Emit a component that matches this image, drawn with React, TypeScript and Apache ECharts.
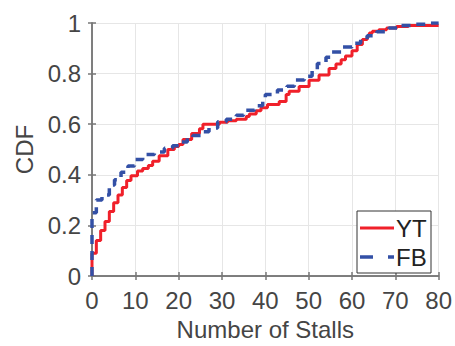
import React, { useEffect, useRef } from "react";
import * as echarts from "echarts";

const xTicks = [0, 10, 20, 30, 40, 50, 60, 70, 80];
const yTicks = [0, 0.2, 0.4, 0.6, 0.8, 1];

const ytX = [0, 0, 1, 2, 3, 4, 5, 6, 7, 8, 9, 10.5, 11.7, 13, 14, 15.5, 17.5, 19, 20, 21, 23, 24.8, 25.6, 29.4, 31.3, 33.3, 35.6, 36.3, 37.9, 39, 40.5, 43.2, 44.8, 45.5, 47.8, 50.1, 52.4, 54.7, 56.3, 57.5, 58.5, 60, 61.2, 62.4, 63.5, 64, 64.7, 66.2, 68, 70.3, 73, 80];
const ytY = [0, 0.09, 0.14, 0.18, 0.215, 0.255, 0.29, 0.32, 0.35, 0.377, 0.396, 0.415, 0.425, 0.437, 0.454, 0.475, 0.5, 0.512, 0.52, 0.54, 0.563, 0.582, 0.6, 0.608, 0.614, 0.62, 0.63, 0.64, 0.653, 0.665, 0.678, 0.69, 0.717, 0.73, 0.749, 0.774, 0.794, 0.82, 0.838, 0.855, 0.87, 0.89, 0.915, 0.935, 0.948, 0.96, 0.967, 0.973, 0.98, 0.986, 0.99, 0.99];

const fbX = [0, 0, 1, 2.3, 4, 5.2, 6.7, 8.3, 9.8, 11.7, 14.4, 16.7, 18.6, 20.2, 22, 23.3, 25.3, 27, 29, 31, 33.3, 35, 37.5, 39.4, 40, 42.8, 45, 46.7, 49, 50.8, 52, 54, 55.4, 57.7, 60, 62, 63.5, 65.7, 68.5, 70.8, 73.8, 77, 80];
const fbY = [0, 0.25, 0.3, 0.32, 0.36, 0.38, 0.41, 0.435, 0.46, 0.48, 0.49, 0.505, 0.515, 0.53, 0.545, 0.555, 0.57, 0.585, 0.61, 0.62, 0.635, 0.655, 0.673, 0.69, 0.717, 0.735, 0.75, 0.775, 0.79, 0.815, 0.84, 0.865, 0.885, 0.905, 0.92, 0.935, 0.95, 0.965, 0.98, 0.99, 0.995, 1, 1];

const seriesNames = ["YT", "FB"];
const xName = "Number of Stalls";
const yName = "CDF";

const RED = "#f0202a";
const BLUE = "#3350a6";
const AXIS = "#777777";
const TEXT = "#454545";
const FONT = "Liberation Sans, Arial, sans-serif";
const FS = 24;

export default function App() {
  const ref = useRef<HTMLDivElement>(null);
  useEffect(() => {
    const chart = echarts.init(ref.current!, null, { renderer: "svg" });
    const axisCommon = {
      type: "value" as const,
      axisLine: { show: true, lineStyle: { color: AXIS, width: 1.5 } },
      axisTick: { show: true, inside: true, length: 4, lineStyle: { color: AXIS, width: 1.5 } },
    };
    chart.setOption({
      animation: false,
      backgroundColor: "#ffffff",
      grid: { left: 92, right: 15, top: 23, bottom: 63, containLabel: false },
      xAxis: [
        {
          ...axisCommon,
          min: 0,
          max: 80,
          interval: 10,
          position: "bottom",
          name: xName,
          nameLocation: "middle",
          nameGap: 41,
          nameTextStyle: { fontSize: FS, color: TEXT, fontFamily: FONT },
          axisLabel: { fontSize: FS, color: TEXT, fontFamily: FONT, margin: 12, formatter: (v: number) => (xTicks.includes(v) ? String(v) : "") },
          splitLine: { show: true, lineStyle: { color: "#e6e6e6", width: 1 } },
        },
        {
          ...axisCommon,
          min: 0,
          max: 80,
          interval: 10,
          position: "top",
          axisLabel: { show: false },
          splitLine: { show: false },
        },
      ],
      yAxis: [
        {
          ...axisCommon,
          min: 0,
          max: 1,
          interval: 0.2,
          position: "left",
          name: yName,
          nameLocation: "middle",
          nameGap: 51,
          nameTextStyle: { fontSize: FS, color: TEXT, fontFamily: FONT },
          axisLabel: { fontSize: FS, color: TEXT, fontFamily: FONT, margin: 11, formatter: (v: number) => String(yTicks.find((t) => Math.abs(t - v) < 1e-9) ?? v) },
          splitLine: { show: true, lineStyle: { color: "#e6e6e6", width: 1 } },
        },
        {
          ...axisCommon,
          min: 0,
          max: 1,
          interval: 0.2,
          position: "right",
          axisLabel: { show: false },
          splitLine: { show: false },
        },
      ],
      series: [
        {
          name: seriesNames[0],
          type: "line",
          step: "end",
          symbol: "none",
          data: ytX.map((x, i) => [x, ytY[i]]),
          lineStyle: { color: RED, width: 3 },
          z: 3,
        },
        {
          name: seriesNames[1],
          type: "line",
          step: "end",
          symbol: "none",
          data: fbX.map((x, i) => [x, fbY[i]]),
          lineStyle: { color: BLUE, width: 3.5, type: [9, 7] },
          z: 4,
        },
      ],
      graphic: [
        {
          type: "rect",
          shape: { x: 357, y: 211, width: 74, height: 62 },
          style: { fill: "#ffffff", stroke: "#333333", lineWidth: 1 },
          z: 10,
        },
        {
          type: "line",
          shape: { x1: 360, y1: 228, x2: 394, y2: 228 },
          style: { stroke: RED, lineWidth: 3 },
          z: 11,
        },
        {
          type: "line",
          shape: { x1: 360, y1: 257, x2: 394, y2: 257 },
          style: { stroke: BLUE, lineWidth: 3.5, lineDash: [13, 15] },
          z: 11,
        },
        {
          type: "text",
          x: 396,
          y: 228,
          style: { text: seriesNames[0], fontSize: FS, fill: "#222222", fontFamily: FONT, verticalAlign: "middle", align: "left" },
          z: 11,
        },
        {
          type: "text",
          x: 396,
          y: 257,
          style: { text: seriesNames[1], fontSize: FS, fill: "#222222", fontFamily: FONT, verticalAlign: "middle", align: "left" },
          z: 11,
        },
      ],
    });
    return () => chart.dispose();
  }, []);
  return <div ref={ref} style={{ position: "absolute", left: 0, top: 0, width: 455, height: 346 }} />;
}
